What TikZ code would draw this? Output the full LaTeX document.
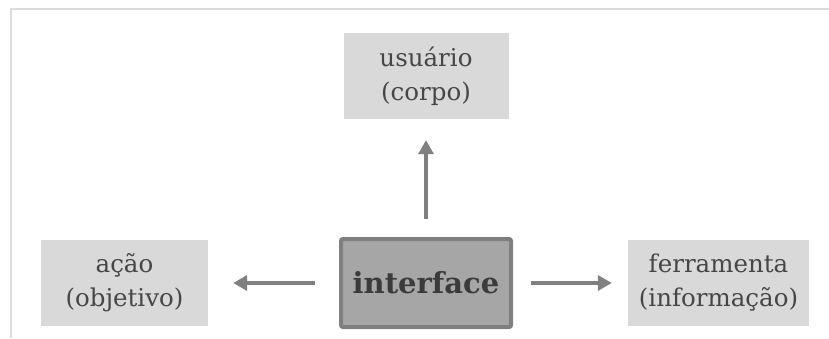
\documentclass[tikz,border=0pt]{standalone}
\usepackage{fontspec}
\setmainfont{DejaVu Serif}
\usetikzlibrary{arrows.meta}
\definecolor{boxfill}{HTML}{D9D9D9}
\definecolor{txt}{HTML}{464646}
\definecolor{arr}{HTML}{808080}
\definecolor{ifill}{HTML}{A6A6A6}
\definecolor{iborder}{HTML}{7F7F7F}
\definecolor{frame}{HTML}{DCDCDC}
\tikzset{
  x=1pt, y=1pt,
  lightbox/.style={fill=boxfill, draw=none, text=txt, align=center, inner sep=0pt,
    minimum height=86pt, font=\fontsize{24.5}{34}\selectfont},
  ifbox/.style={fill=ifill, draw=iborder, line width=4pt, rounded corners=2pt, text=txt!85!black,
    minimum width=170pt, minimum height=88pt, inner sep=0pt, font=\fontsize{29}{34}\selectfont\bfseries},
  conn/.style={draw=arr, line width=4pt, -{Triangle[length=14pt,width=15pt]}}
}
\begin{document}
\begin{tikzpicture}
\useasboundingbox (0,0) rectangle (829,338);
\draw[frame, line width=2pt] (11,0) -- (11,328.5) -- (829,328.5);
\node[lightbox, minimum width=165pt] (user) at (426,262) {usuário\\(corpo)};
\node[lightbox, minimum width=167pt] (acao) at (124.5,55) {ação\\(objetivo)};
\node[lightbox, minimum width=181pt] (tool) at (718.5,55) {ferramenta\\(informação)};
\node[ifbox] (iface) at (426,55) {interface};
\draw[conn, shorten <=18pt, shorten >=21pt] (iface.north) -- (user.south);
\draw[conn, shorten <=24pt, shorten >=25pt] (iface.west) -- (acao.east);
\draw[conn, shorten <=18pt, shorten >=16pt] (iface.east) -- (tool.west);
\end{tikzpicture}
\end{document}
